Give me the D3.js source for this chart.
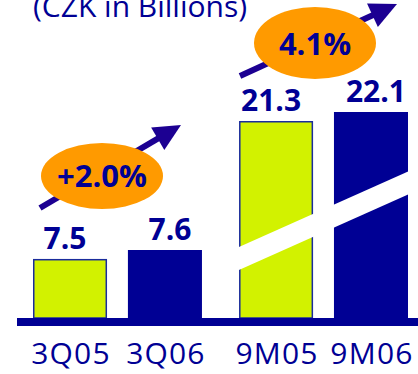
<!DOCTYPE html>
<html>
<head>
<meta charset="utf-8">
<script src="https://cdn.jsdelivr.net/npm/d3@7"></script>
<style>
  html, body { margin: 0; padding: 0; background: #fff; }
  svg { display: block; font-family: "Open Sans", "DejaVu Sans", sans-serif; }
</style>
</head>
<body>
<svg id="chart" width="418" height="374"></svg>
<script>
// Revenue comparison, quarter vs. nine months
const title = "(CZK in Billions)";
const groups = ["3Q", "9M"];
const categories = [["3Q05", "3Q06"], ["9M05", "9M06"]];
const values = [[7.5, 7.6], [21.3, 22.1]];
const growthLabels = ["+2.0%", "4.1%"];

const navy = "#000094";
const lime = "#d2f200";
const orange = "#ff9a00";
const arrowColor = "#1c0092";

const svg = d3.select("#chart");
const baseY = 318;

// Horizontal layout: one band per period group, two bars inside each
const xGroup = d3.scaleBand().domain(groups).range([33, 408]).paddingInner(0.18);
const xInner = d3.scaleBand().domain([0, 1]).range([0, xGroup.bandwidth()]).paddingInner(0.22);

// Each group has its own truncated value axis (broken axis)
const yScales = {
  "3Q": d3.scaleLinear().domain([6.84, 7.6]).range([baseY, 250]),
  "9M": d3.scaleLinear().domain([3.8, 22.1]).range([baseY, 112])
};

const bars = [];
groups.forEach((g, gi) => {
  values[gi].forEach((v, i) => {
    bars.push({ group: g, gi, i, value: v, label: categories[gi][i] });
  });
});

const barX = d => xGroup(d.group) + xInner(d.i);
const barW = xInner.bandwidth();

// Title
svg.append("text")
  .attr("x", 33).attr("y", 17)
  .attr("font-size", 30)
  .attr("fill", navy)
  .text(title);

// Bars
svg.selectAll("rect.bar").data(bars).join("rect")
  .attr("class", "bar")
  .attr("x", d => barX(d) + (d.i === 0 ? 0.75 : 0))
  .attr("y", d => yScales[d.group](d.value) + (d.i === 0 ? 0.75 : 0))
  .attr("width", d => barW - (d.i === 0 ? 1.5 : 0))
  .attr("height", d => baseY - yScales[d.group](d.value) - (d.i === 0 ? 0.75 : 0))
  .attr("fill", d => d.i === 0 ? lime : navy)
  .attr("stroke", d => d.i === 0 ? "#1a2c9c" : "none")
  .attr("stroke-width", 1.5);

// Axis-break band across the nine-month bars
const g2x0 = xGroup("9M") - 4, g2x1 = xGroup("9M") + xGroup.bandwidth() + 4;
const slope = -0.447, yAt0 = 247 + (g2x0 - 239) * slope, bandH = 23;
svg.append("path")
  .attr("d", d3.line()([
    [g2x0, yAt0],
    [g2x1, yAt0 + (g2x1 - g2x0) * slope],
    [g2x1, yAt0 + (g2x1 - g2x0) * slope + bandH],
    [g2x0, yAt0 + bandH]
  ]) + "Z")
  .attr("fill", "#fff");

// Baseline
svg.append("rect")
  .attr("x", 17).attr("y", baseY)
  .attr("width", 401).attr("height", 8)
  .attr("fill", navy);

// Value labels
svg.selectAll("text.val").data(bars).join("text")
  .attr("class", "val")
  .attr("x", d => barX(d) + barW / 2 + (d.i === 0 ? -5 : 5))
  .attr("y", d => yScales[d.group](d.value) - 10)
  .attr("text-anchor", "middle")
  .attr("font-size", 30)
  .attr("font-weight", "bold")
  .attr("fill", navy)
  .text(d => d.value.toFixed(1));

// Category labels
svg.selectAll("text.cat").data(bars).join("text")
  .attr("class", "cat")
  .attr("x", d => barX(d) + barW / 2 + 1)
  .attr("y", 364)
  .attr("text-anchor", "middle")
  .attr("font-size", 30)
  .attr("letter-spacing", 1.2)
  .attr("fill", navy)
  .text(d => d.label);

// Growth arrows with orange callouts
const arrows = [
  { from: [40, 208], to: [181, 125], c: [102, 176], rx: 61, ry: 33, ty: 187 },
  { from: [240, 76], to: [397, 4], c: [315, 43], rx: 61, ry: 36, ty: 55 }
];

arrows.forEach((a, k) => {
  const dx = a.to[0] - a.from[0], dy = a.to[1] - a.from[1];
  const len = Math.hypot(dx, dy), ux = dx / len, uy = dy / len;
  const headLen = 27, headHalf = 13;
  const bx = a.to[0] - ux * headLen, by = a.to[1] - uy * headLen;
  svg.append("line")
    .attr("x1", a.from[0]).attr("y1", a.from[1])
    .attr("x2", bx + ux * 2).attr("y2", by + uy * 2)
    .attr("stroke", arrowColor).attr("stroke-width", 6);
  svg.append("path")
    .attr("d", d3.line()([
      a.to,
      [bx - uy * headHalf, by + ux * headHalf],
      [bx + uy * headHalf, by - ux * headHalf]
    ]) + "Z")
    .attr("fill", arrowColor);
  svg.append("ellipse")
    .attr("cx", a.c[0]).attr("cy", a.c[1])
    .attr("rx", a.rx).attr("ry", a.ry)
    .attr("fill", orange);
  svg.append("text")
    .attr("x", a.c[0]).attr("y", a.ty)
    .attr("text-anchor", "middle")
    .attr("font-size", 31)
    .attr("font-weight", "bold")
    .attr("fill", navy)
    .text(growthLabels[k]);
});
</script>
</body>
</html>
